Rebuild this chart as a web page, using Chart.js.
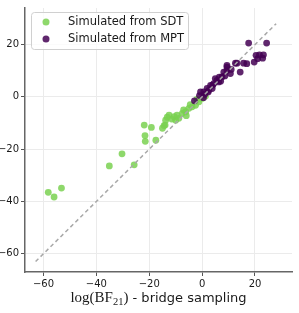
<!DOCTYPE html>
<html>
<head>
<meta charset="utf-8">
<script src="https://cdn.jsdelivr.net/npm/chart.js@4"></script>
<style>
  html, body { margin: 0; padding: 0; background: #fff; }
  #wrap { width: 299px; height: 313px; }
</style>
</head>
<body>
<div id="wrap"><canvas id="chart"></canvas></div>
<script>
// данные
const seriesNames = ['Simulated from SDT', 'Simulated from MPT'];
const sdtX = [-58.2, -56, -53.2, -35.1, -30.3, -25.7, -21.9, -19.2, -21.6, -21.5, -17.5, -14, -13.2, -13.8, -12.5, -10.6, -10, -8.8, -7.5, -6.2, -5, -3.8, -2.5, -1.2, 0, 1.3, -9.5, -7, -4.5, -11.5, -6, -2, -14.4, -15];
const sdtY = [-36.5, -38.3, -34.9, -26.4, -21.8, -26, -10.8, -11.7, -14.8, -17, -16.6, -10.8, -7.8, -8.9, -7, -7.6, -8.9, -8.2, -6.3, -5.7, -4.4, -3.8, -3.2, -1.9, -0.6, 0.3, -7, -5, -3, -8.5, -7.2, -1, -11, -12];
const mptX = [-2.9, 2.3, 0.6, 1.9, 3.2, 4.4, 5.6, 6.3, 3.8, 5, 7.5, 8.2, 10.7, 9.4, 12.6, 14.4, 15.7, 16.9, 13.2, 19.7, 21, 22.9, 20.4, 21.7, 23.2, 17.6, 24.4, 1, 2.5, 4, 6.5, 7, 0.5, -1, 9.4, 9.4, 11, 8.6, -0.6];
const mptY = [-1.5, 1.9, 1.9, 3.2, 4.4, 5.1, 6.3, 5.7, 3.2, 7, 7.6, 9.5, 8.9, 11.4, 12.9, 9.5, 12.9, 12.7, 12.9, 13.3, 14.6, 14.8, 15.9, 16.1, 16.1, 20.6, 20.6, 1, 2.5, 4.5, 7.5, 6, -0.3, 0.5, 10.1, 12, 10.5, 8, 1.9];
const diagLine = [-63, 28];
const xTicks = [-60, -40, -20, 0, 20];
const yTicks = [-60, -40, -20, 0, 20];
const axisMin = -67, axisMax = 34;

const green = 'rgba(122, 209, 81, 0.85)';
const purple = 'rgba(68, 1, 84, 0.85)';
const sansFont = '"DejaVu Sans", sans-serif';

function toPoints(xs, ys) {
    return xs.map((x, i) => ({ x: x, y: ys[i] }));
}

// легенда внутри графика и подпись оси X (с индексом)
const extras = {
    id: 'extras',
    afterDraw(chart) {
        const ctx = chart.ctx;
        ctx.save();
        // legend
        const bx = 31, by = 12, bw = 157, bh = 37;
        ctx.beginPath();
        ctx.roundRect(bx + 0.5, by + 0.5, bw, bh, 3);
        ctx.fillStyle = 'rgba(255,255,255,0.8)';
        ctx.fill();
        ctx.strokeStyle = '#d0d0d0';
        ctx.lineWidth = 1;
        ctx.stroke();
        const cols = [green, purple];
        ctx.font = '11.5px ' + sansFont;
        ctx.textBaseline = 'middle';
        ctx.textAlign = 'left';
        seriesNames.forEach((name, i) => {
            const yy = by + 10 + i * 17;
            ctx.beginPath();
            ctx.arc(46, yy, 3.5, 0, Math.PI * 2);
            ctx.fillStyle = cols[i];
            ctx.fill();
            ctx.fillStyle = '#1a1a1a';
            ctx.fillText(name, 68, yy + 0.5);
        });

        // x axis title
        const parts = [
            { t: 'log(BF', f: '15px "Liberation Serif", serif', dy: 0 },
            { t: '21', f: '10.5px "Liberation Serif", serif', dy: 3 },
            { t: ')', f: '15px "Liberation Serif", serif', dy: 0 },
            { t: ' - bridge sampling', f: '13px ' + sansFont, dy: 0 }
        ];
        let total = 0;
        parts.forEach(p => { ctx.font = p.f; p.w = ctx.measureText(p.t).width; total += p.w; });
        const area = chart.chartArea;
        let x = (area.left + area.right) / 2 - total / 2;
        ctx.textBaseline = 'alphabetic';
        ctx.fillStyle = '#1a1a1a';
        parts.forEach(p => {
            ctx.font = p.f;
            ctx.fillText(p.t, x, 302 + p.dy);
            x += p.w;
        });
        ctx.restore();
    }
};

const axisCommon = {
    type: 'linear',
    min: axisMin,
    max: axisMax,
    grid: {
        color: '#ebebeb',
        lineWidth: 1,
        tickColor: '#555',
        tickLength: 4
    },
    border: { color: '#666', width: 1.5 },
    ticks: {
        color: '#1a1a1a',
        font: { family: 'DejaVu Sans', size: 10 },
        padding: 2,
        callback: v => String(v).replace('-', '\u2212')
    }
};

const ctx = document.getElementById('chart').getContext('2d');
const chart = new Chart(ctx, {
    type: 'scatter',
    data: {
        datasets: [
            {
                type: 'line',
                label: 'diag',
                data: toPoints(diagLine, diagLine),
                borderColor: '#a8a8a8',
                borderWidth: 1.5,
                borderDash: [4, 3],
                pointRadius: 0,
                fill: false,
                order: 0
            },
            {
                label: seriesNames[1],
                data: toPoints(mptX, mptY),
                backgroundColor: purple,
                borderWidth: 0,
                pointRadius: 3.4,
                order: 1
            },
            {
                label: seriesNames[0],
                data: toPoints(sdtX, sdtY),
                backgroundColor: green,
                borderWidth: 0,
                pointRadius: 3.4,
                order: 2
            }
        ]
    },
    options: {
        responsive: true,
        maintainAspectRatio: false,
        animation: false,
        layout: { padding: { top: 6, right: 7, left: 0, bottom: 0 } },
        plugins: {
            legend: { display: false },
            tooltip: { enabled: false }
        },
        scales: {
            x: Object.assign({}, axisCommon, {
                position: 'bottom',
                afterBuildTicks: s => { s.ticks = xTicks.map(v => ({ value: v })); },
                afterFit: s => { s.height = 41; }
            }),
            y: Object.assign({}, axisCommon, {
                position: 'left',
                afterBuildTicks: s => { s.ticks = yTicks.map(v => ({ value: v })); },
                afterFit: s => { s.width = 25; }
            })
        }
    },
    plugins: [extras]
});
</script>
</body>
</html>
